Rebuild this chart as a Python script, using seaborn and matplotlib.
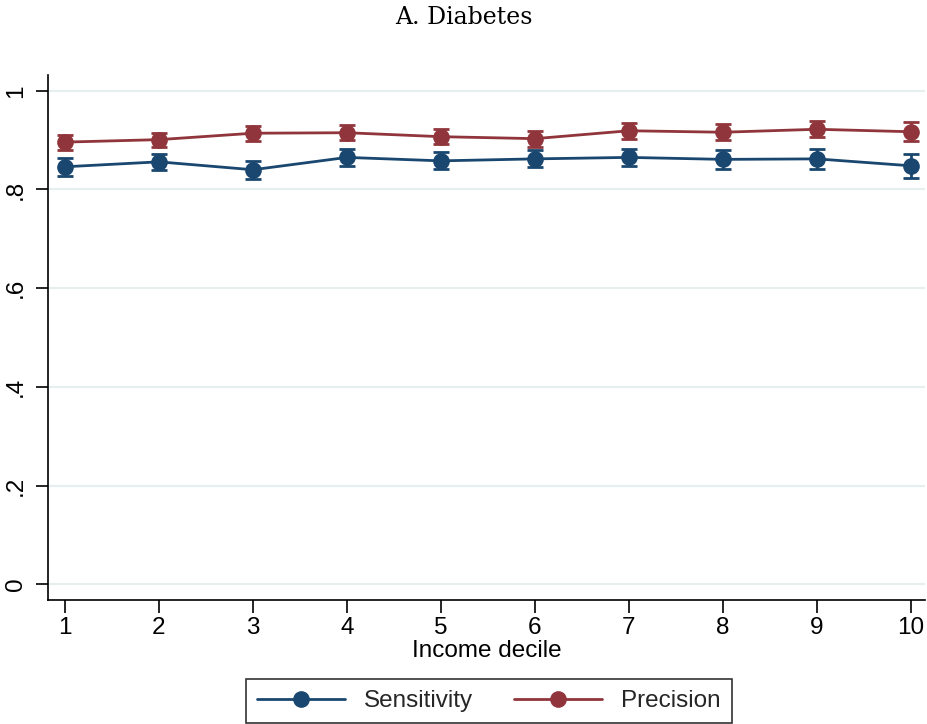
import numpy as np
import pandas as pd
import matplotlib
matplotlib.use("Agg")
import matplotlib.pyplot as plt
import seaborn as sns
from matplotlib.lines import Line2D

deciles = [1, 2, 3, 4, 5, 6, 7, 8, 9, 10]
sensitivity = [0.846, 0.856, 0.840, 0.865, 0.858, 0.862, 0.865, 0.861, 0.862, 0.848]
sens_err = [0.018, 0.016, 0.018, 0.017, 0.017, 0.017, 0.018, 0.019, 0.020, 0.024]
precision = [0.896, 0.901, 0.914, 0.915, 0.907, 0.903, 0.919, 0.916, 0.922, 0.917]
prec_err = [0.015, 0.014, 0.015, 0.015, 0.015, 0.016, 0.016, 0.016, 0.016, 0.019]
series_names = ["Sensitivity", "Precision"]
yticks = [0, 0.2, 0.4, 0.6, 0.8, 1.0]
ytick_labels = ["0", ".2", ".4", ".6", ".8", "1"]
title = "A. Diabetes"
xlabel = "Income decile"

blue = "#1a476f"
red = "#90353b"

sns.set_theme(style="white")
plt.rcParams["font.family"] = ["Liberation Sans", "DejaVu Sans"]

df = pd.DataFrame({
    "decile": deciles * 2,
    "value": sensitivity + precision,
    "err": sens_err + prec_err,
    "series": [series_names[0]] * 10 + [series_names[1]] * 10,
})

fig = plt.figure(figsize=(9.27, 7.24), dpi=100)
ax = fig.add_axes([48 / 927, 1 - 600 / 724, 877 / 927, 525 / 724])

for y in yticks:
    ax.axhline(y, color="#e6eef0", lw=1.5, zorder=0)

palette = {series_names[0]: blue, series_names[1]: red}
sns.lineplot(data=df, x="decile", y="value", hue="series", palette=palette,
             marker="o", markersize=12, markeredgewidth=0, linewidth=2,
             ax=ax, legend=False, zorder=3)
for name in series_names:
    sub = df[df["series"] == name]
    ax.errorbar(sub["decile"], sub["value"], yerr=sub["err"], fmt="none",
                ecolor=palette[name], elinewidth=2, capsize=6, capthick=2, zorder=2)

ax.set_xlim(0.82, 10.15)
ax.set_ylim(-0.032, 1.032)
ax.set_xticks(deciles)
ax.set_xticklabels([str(d) for d in deciles], fontsize=17.5)
ax.set_yticks(yticks)
ax.set_yticklabels(ytick_labels, fontsize=17.5, rotation=90, va="center")
ax.tick_params(axis="both", direction="out", length=9, width=1.2, color="black",
               pad=3, labelcolor="black", bottom=True, left=True)
ax.tick_params(axis="y", pad=6)
ax.set_xlabel(xlabel, fontsize=17.5, labelpad=1, color="black")
ax.set_ylabel("")
for s in ["top", "right"]:
    ax.spines[s].set_visible(False)
for s in ["left", "bottom"]:
    ax.spines[s].set_color("black")
    ax.spines[s].set_linewidth(1.2)

fig.text(0.5, 1 - 18 / 724, title, ha="center", va="center", fontsize=17,
         family=["DejaVu Serif"], color="black")

handles = [Line2D([0], [0], color=blue, lw=2, marker="o", markersize=11),
           Line2D([0], [0], color=red, lw=2, marker="o", markersize=11)]
leg = fig.legend(handles, series_names, loc="center", bbox_to_anchor=(489 / 927, 1 - 701 / 724),
                 ncol=2, frameon=True, fontsize=17.5, handlelength=3.6, handletextpad=0.8,
                 columnspacing=1.7, fancybox=False, edgecolor="black", borderpad=0.45)
leg.get_frame().set_linewidth(1.2)

fig.savefig("out.png", dpi=100)
